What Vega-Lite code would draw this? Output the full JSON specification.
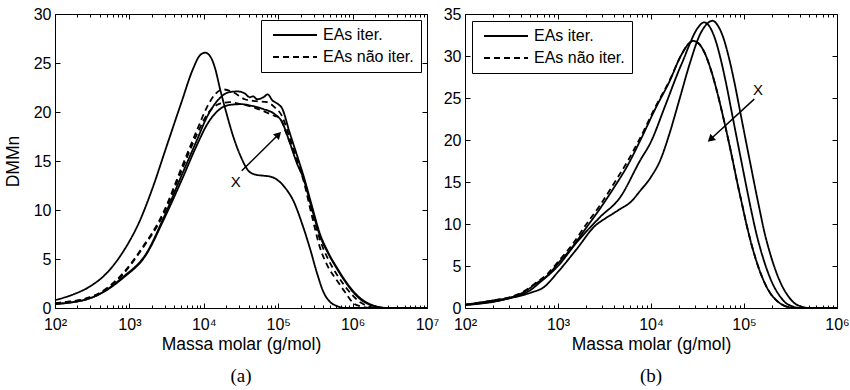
{
  "$schema": "https://vega.github.io/schema/vega-lite/v6.json",
  "autosize": {"type": "pad"},
  "padding": {"left": 3, "top": 5, "right": 4, "bottom": 0},
  "background": "white",
  "config": {
    "font": "Liberation Sans",
    "view": {"stroke": "black", "strokeWidth": 1},
    "axis": {"grid": false, "domain": false, "tickColor": "black", "labelColor": "black", "titleColor": "black", "labelFontSize": 16, "titleFontSize": 17.5, "titleFontWeight": "normal", "labelFlush": false, "labelOverlap": false}
  },
  "datasets": {
    "a": [
      {"c":"S1","t":"EAs iter.","m":100,"v":0.8},{"c":"S1","t":"EAs iter.","m":178,"v":1.4},{"c":"S1","t":"EAs iter.","m":295,"v":2.2},{"c":"S1","t":"EAs iter.","m":501,"v":3.6},{"c":"S1","t":"EAs iter.","m":832,"v":5.8},{"c":"S1","t":"EAs iter.","m":1380,"v":8.9},{"c":"S1","t":"EAs iter.","m":1995,"v":12.0},{"c":"S1","t":"EAs iter.","m":3162,"v":16.5},{"c":"S1","t":"EAs iter.","m":5012,"v":21.0},{"c":"S1","t":"EAs iter.","m":7079,"v":24.3},{"c":"S1","t":"EAs iter.","m":8913,"v":25.8},{"c":"S1","t":"EAs iter.","m":10471,"v":26.05},{"c":"S1","t":"EAs iter.","m":12589,"v":25.5},{"c":"S1","t":"EAs iter.","m":14125,"v":24.5},{"c":"S1","t":"EAs iter.","m":16596,"v":22.3},{"c":"S1","t":"EAs iter.","m":19953,"v":20.0},{"c":"S1","t":"EAs iter.","m":25119,"v":17.4},{"c":"S1","t":"EAs iter.","m":31623,"v":15.4},{"c":"S1","t":"EAs iter.","m":39811,"v":14.0},{"c":"S1","t":"EAs iter.","m":50119,"v":13.6},{"c":"S1","t":"EAs iter.","m":63096,"v":13.5},{"c":"S1","t":"EAs iter.","m":79433,"v":13.4},{"c":"S1","t":"EAs iter.","m":100000,"v":13.0},{"c":"S1","t":"EAs iter.","m":125893,"v":12.2},{"c":"S1","t":"EAs iter.","m":158489,"v":11.0},{"c":"S1","t":"EAs iter.","m":213796,"v":8.4},{"c":"S1","t":"EAs iter.","m":269153,"v":6.0},{"c":"S1","t":"EAs iter.","m":331131,"v":3.6},{"c":"S1","t":"EAs iter.","m":407380,"v":1.6},{"c":"S1","t":"EAs iter.","m":501187,"v":0.6},{"c":"S1","t":"EAs iter.","m":616595,"v":0.2},{"c":"S1","t":"EAs iter.","m":794328,"v":0},{"c":"S1","t":"EAs iter.","m":10000000,"v":0},
      {"c":"S2","t":"EAs iter.","m":100,"v":0.4},{"c":"S2","t":"EAs iter.","m":295,"v":1.0},{"c":"S2","t":"EAs iter.","m":832,"v":3.2},{"c":"S2","t":"EAs iter.","m":1698,"v":5.6},{"c":"S2","t":"EAs iter.","m":2884,"v":9.2},{"c":"S2","t":"EAs iter.","m":5012,"v":13.5},{"c":"S2","t":"EAs iter.","m":7943,"v":17.0},{"c":"S2","t":"EAs iter.","m":11220,"v":19.6},{"c":"S2","t":"EAs iter.","m":15849,"v":21.3},{"c":"S2","t":"EAs iter.","m":21380,"v":22.0},{"c":"S2","t":"EAs iter.","m":28184,"v":22.1},{"c":"S2","t":"EAs iter.","m":35481,"v":21.9},{"c":"S2","t":"EAs iter.","m":41687,"v":21.5},{"c":"S2","t":"EAs iter.","m":45709,"v":21.6},{"c":"S2","t":"EAs iter.","m":52481,"v":21.3},{"c":"S2","t":"EAs iter.","m":63096,"v":21.5},{"c":"S2","t":"EAs iter.","m":72444,"v":21.8},{"c":"S2","t":"EAs iter.","m":83176,"v":21.2},{"c":"S2","t":"EAs iter.","m":100000,"v":20.8},{"c":"S2","t":"EAs iter.","m":112202,"v":20.4},{"c":"S2","t":"EAs iter.","m":141254,"v":18.0},{"c":"S2","t":"EAs iter.","m":194984,"v":14.7},{"c":"S2","t":"EAs iter.","m":218776,"v":13.5},{"c":"S2","t":"EAs iter.","m":281838,"v":10.5},{"c":"S2","t":"EAs iter.","m":363078,"v":7.6},{"c":"S2","t":"EAs iter.","m":467735,"v":5.7},{"c":"S2","t":"EAs iter.","m":616595,"v":4.1},{"c":"S2","t":"EAs iter.","m":794328,"v":2.8},{"c":"S2","t":"EAs iter.","m":1023293,"v":1.7},{"c":"S2","t":"EAs iter.","m":1318257,"v":0.9},{"c":"S2","t":"EAs iter.","m":1698244,"v":0.4},{"c":"S2","t":"EAs iter.","m":2238721,"v":0.1},{"c":"S2","t":"EAs iter.","m":2818383,"v":0},{"c":"S2","t":"EAs iter.","m":10000000,"v":0},
      {"c":"S3","t":"EAs iter.","m":100,"v":0.4},{"c":"S3","t":"EAs iter.","m":295,"v":1.0},{"c":"S3","t":"EAs iter.","m":832,"v":3.1},{"c":"S3","t":"EAs iter.","m":1698,"v":5.5},{"c":"S3","t":"EAs iter.","m":2884,"v":9.0},{"c":"S3","t":"EAs iter.","m":5012,"v":13.0},{"c":"S3","t":"EAs iter.","m":7943,"v":16.5},{"c":"S3","t":"EAs iter.","m":11220,"v":18.8},{"c":"S3","t":"EAs iter.","m":15849,"v":20.2},{"c":"S3","t":"EAs iter.","m":21380,"v":20.7},{"c":"S3","t":"EAs iter.","m":31623,"v":20.8},{"c":"S3","t":"EAs iter.","m":45709,"v":20.6},{"c":"S3","t":"EAs iter.","m":63096,"v":20.3},{"c":"S3","t":"EAs iter.","m":89125,"v":19.8},{"c":"S3","t":"EAs iter.","m":112202,"v":19.0},{"c":"S3","t":"EAs iter.","m":141254,"v":17.0},{"c":"S3","t":"EAs iter.","m":177828,"v":14.8},{"c":"S3","t":"EAs iter.","m":218776,"v":13.2},{"c":"S3","t":"EAs iter.","m":281838,"v":10.2},{"c":"S3","t":"EAs iter.","m":363078,"v":7.4},{"c":"S3","t":"EAs iter.","m":467735,"v":5.6},{"c":"S3","t":"EAs iter.","m":616595,"v":4.0},{"c":"S3","t":"EAs iter.","m":794328,"v":2.7},{"c":"S3","t":"EAs iter.","m":1023293,"v":1.6},{"c":"S3","t":"EAs iter.","m":1318257,"v":0.8},{"c":"S3","t":"EAs iter.","m":1698244,"v":0.35},{"c":"S3","t":"EAs iter.","m":2238721,"v":0.1},{"c":"S3","t":"EAs iter.","m":2818383,"v":0},{"c":"S3","t":"EAs iter.","m":10000000,"v":0},
      {"c":"D1","t":"EAs não iter.","m":100,"v":0.5},{"c":"D1","t":"EAs não iter.","m":295,"v":1.1},{"c":"D1","t":"EAs não iter.","m":832,"v":3.6},{"c":"D1","t":"EAs não iter.","m":1380,"v":5.8},{"c":"D1","t":"EAs não iter.","m":2884,"v":9.8},{"c":"D1","t":"EAs não iter.","m":5012,"v":14.3},{"c":"D1","t":"EAs não iter.","m":7943,"v":18.0},{"c":"D1","t":"EAs não iter.","m":11220,"v":20.6},{"c":"D1","t":"EAs não iter.","m":14125,"v":21.8},{"c":"D1","t":"EAs não iter.","m":18197,"v":22.3},{"c":"D1","t":"EAs não iter.","m":25119,"v":22.0},{"c":"D1","t":"EAs não iter.","m":35481,"v":21.3},{"c":"D1","t":"EAs não iter.","m":50119,"v":21.1},{"c":"D1","t":"EAs não iter.","m":70795,"v":21.0},{"c":"D1","t":"EAs não iter.","m":89125,"v":20.5},{"c":"D1","t":"EAs não iter.","m":112202,"v":19.6},{"c":"D1","t":"EAs não iter.","m":141254,"v":17.5},{"c":"D1","t":"EAs não iter.","m":177828,"v":15.2},{"c":"D1","t":"EAs não iter.","m":218776,"v":13.2},{"c":"D1","t":"EAs não iter.","m":281838,"v":10.0},{"c":"D1","t":"EAs não iter.","m":363078,"v":7.0},{"c":"D1","t":"EAs não iter.","m":467735,"v":5.0},{"c":"D1","t":"EAs não iter.","m":616595,"v":3.4},{"c":"D1","t":"EAs não iter.","m":794328,"v":2.2},{"c":"D1","t":"EAs não iter.","m":1023293,"v":1.2},{"c":"D1","t":"EAs não iter.","m":1318257,"v":0.5},{"c":"D1","t":"EAs não iter.","m":1698244,"v":0.15},{"c":"D1","t":"EAs não iter.","m":2238721,"v":0},{"c":"D1","t":"EAs não iter.","m":10000000,"v":0},
      {"c":"D2","t":"EAs não iter.","m":100,"v":0.5},{"c":"D2","t":"EAs não iter.","m":295,"v":1.05},{"c":"D2","t":"EAs não iter.","m":832,"v":3.5},{"c":"D2","t":"EAs não iter.","m":1380,"v":5.7},{"c":"D2","t":"EAs não iter.","m":2884,"v":9.6},{"c":"D2","t":"EAs não iter.","m":5012,"v":14.0},{"c":"D2","t":"EAs não iter.","m":7943,"v":17.6},{"c":"D2","t":"EAs não iter.","m":11220,"v":19.8},{"c":"D2","t":"EAs não iter.","m":15849,"v":20.8},{"c":"D2","t":"EAs não iter.","m":22387,"v":21.0},{"c":"D2","t":"EAs não iter.","m":31623,"v":20.8},{"c":"D2","t":"EAs não iter.","m":45709,"v":20.5},{"c":"D2","t":"EAs não iter.","m":63096,"v":20.1},{"c":"D2","t":"EAs não iter.","m":89125,"v":19.6},{"c":"D2","t":"EAs não iter.","m":104713,"v":19.4},{"c":"D2","t":"EAs não iter.","m":125893,"v":18.0},{"c":"D2","t":"EAs não iter.","m":158489,"v":16.0},{"c":"D2","t":"EAs não iter.","m":218776,"v":13.0},{"c":"D2","t":"EAs não iter.","m":281838,"v":9.5},{"c":"D2","t":"EAs não iter.","m":363078,"v":6.2},{"c":"D2","t":"EAs não iter.","m":467735,"v":4.2},{"c":"D2","t":"EAs não iter.","m":616595,"v":2.8},{"c":"D2","t":"EAs não iter.","m":794328,"v":1.6},{"c":"D2","t":"EAs não iter.","m":1023293,"v":0.5},{"c":"D2","t":"EAs não iter.","m":1318257,"v":0.15},{"c":"D2","t":"EAs não iter.","m":1698244,"v":0},{"c":"D2","t":"EAs não iter.","m":10000000,"v":0}
    ],
    "b": [
      {"c":"DB1","t":"EAs não iter.","m":100,"v":0.4},{"c":"DB1","t":"EAs não iter.","m":200,"v":0.9},{"c":"DB1","t":"EAs não iter.","m":316,"v":1.35},{"c":"DB1","t":"EAs não iter.","m":447,"v":2.1},{"c":"DB1","t":"EAs não iter.","m":562,"v":2.9},{"c":"DB1","t":"EAs não iter.","m":794,"v":4.2},{"c":"DB1","t":"EAs não iter.","m":1000,"v":5.5},{"c":"DB1","t":"EAs não iter.","m":1413,"v":7.5},{"c":"DB1","t":"EAs não iter.","m":1995,"v":9.9},{"c":"DB1","t":"EAs não iter.","m":2818,"v":12.2},{"c":"DB1","t":"EAs não iter.","m":3981,"v":14.8},{"c":"DB1","t":"EAs não iter.","m":5623,"v":17.5},{"c":"DB1","t":"EAs não iter.","m":7943,"v":20.6},{"c":"DB1","t":"EAs não iter.","m":11220,"v":24.0},{"c":"DB1","t":"EAs não iter.","m":15849,"v":27.1},{"c":"DB1","t":"EAs não iter.","m":20893,"v":30.0},{"c":"DB1","t":"EAs não iter.","m":25119,"v":31.4},{"c":"DB1","t":"EAs não iter.","m":28184,"v":31.8},{"c":"DB1","t":"EAs não iter.","m":33113,"v":31.4},{"c":"DB1","t":"EAs não iter.","m":38019,"v":30.3},{"c":"DB1","t":"EAs não iter.","m":43652,"v":28.5},{"c":"DB1","t":"EAs não iter.","m":50119,"v":26.2},{"c":"DB1","t":"EAs não iter.","m":57544,"v":23.5},{"c":"DB1","t":"EAs não iter.","m":66069,"v":20.6},{"c":"DB1","t":"EAs não iter.","m":75858,"v":17.5},{"c":"DB1","t":"EAs não iter.","m":85114,"v":14.8},{"c":"DB1","t":"EAs não iter.","m":95499,"v":12.3},{"c":"DB1","t":"EAs não iter.","m":107152,"v":9.8},{"c":"DB1","t":"EAs não iter.","m":120226,"v":7.6},{"c":"DB1","t":"EAs não iter.","m":134896,"v":5.7},{"c":"DB1","t":"EAs não iter.","m":151356,"v":4.1},{"c":"DB1","t":"EAs não iter.","m":169824,"v":2.8},{"c":"DB1","t":"EAs não iter.","m":190546,"v":1.8},{"c":"DB1","t":"EAs não iter.","m":218776,"v":1.0},{"c":"DB1","t":"EAs não iter.","m":257040,"v":0.4},{"c":"DB1","t":"EAs não iter.","m":301995,"v":0.1},{"c":"DB1","t":"EAs não iter.","m":354813,"v":0},{"c":"DB1","t":"EAs não iter.","m":1000000,"v":0},
      {"c":"B1","t":"EAs iter.","m":100,"v":0.4},{"c":"B1","t":"EAs iter.","m":200,"v":0.9},{"c":"B1","t":"EAs iter.","m":316,"v":1.3},{"c":"B1","t":"EAs iter.","m":447,"v":2.0},{"c":"B1","t":"EAs iter.","m":562,"v":2.8},{"c":"B1","t":"EAs iter.","m":794,"v":4.0},{"c":"B1","t":"EAs iter.","m":1000,"v":5.3},{"c":"B1","t":"EAs iter.","m":1413,"v":7.2},{"c":"B1","t":"EAs iter.","m":1995,"v":9.5},{"c":"B1","t":"EAs iter.","m":2818,"v":11.8},{"c":"B1","t":"EAs iter.","m":3981,"v":14.3},{"c":"B1","t":"EAs iter.","m":5623,"v":17.0},{"c":"B1","t":"EAs iter.","m":7943,"v":20.3},{"c":"B1","t":"EAs iter.","m":11220,"v":23.8},{"c":"B1","t":"EAs iter.","m":15849,"v":27.0},{"c":"B1","t":"EAs iter.","m":20893,"v":30.0},{"c":"B1","t":"EAs iter.","m":25119,"v":31.4},{"c":"B1","t":"EAs iter.","m":28184,"v":31.8},{"c":"B1","t":"EAs iter.","m":33113,"v":31.4},{"c":"B1","t":"EAs iter.","m":38019,"v":30.3},{"c":"B1","t":"EAs iter.","m":43652,"v":28.5},{"c":"B1","t":"EAs iter.","m":50119,"v":26.2},{"c":"B1","t":"EAs iter.","m":57544,"v":23.5},{"c":"B1","t":"EAs iter.","m":66069,"v":20.6},{"c":"B1","t":"EAs iter.","m":75858,"v":17.5},{"c":"B1","t":"EAs iter.","m":85114,"v":14.8},{"c":"B1","t":"EAs iter.","m":95499,"v":12.3},{"c":"B1","t":"EAs iter.","m":107152,"v":9.8},{"c":"B1","t":"EAs iter.","m":120226,"v":7.6},{"c":"B1","t":"EAs iter.","m":134896,"v":5.7},{"c":"B1","t":"EAs iter.","m":151356,"v":4.1},{"c":"B1","t":"EAs iter.","m":169824,"v":2.8},{"c":"B1","t":"EAs iter.","m":190546,"v":1.8},{"c":"B1","t":"EAs iter.","m":218776,"v":1.0},{"c":"B1","t":"EAs iter.","m":257040,"v":0.4},{"c":"B1","t":"EAs iter.","m":301995,"v":0.1},{"c":"B1","t":"EAs iter.","m":354813,"v":0},{"c":"B1","t":"EAs iter.","m":1000000,"v":0},
      {"c":"B2","t":"EAs iter.","m":100,"v":0.35},{"c":"B2","t":"EAs iter.","m":316,"v":1.25},{"c":"B2","t":"EAs iter.","m":501,"v":2.1},{"c":"B2","t":"EAs iter.","m":631,"v":3.0},{"c":"B2","t":"EAs iter.","m":1000,"v":5.0},{"c":"B2","t":"EAs iter.","m":1585,"v":7.8},{"c":"B2","t":"EAs iter.","m":2818,"v":10.8},{"c":"B2","t":"EAs iter.","m":4677,"v":13.2},{"c":"B2","t":"EAs iter.","m":7586,"v":17.5},{"c":"B2","t":"EAs iter.","m":10000,"v":19.8},{"c":"B2","t":"EAs iter.","m":14125,"v":24.0},{"c":"B2","t":"EAs iter.","m":19953,"v":28.3},{"c":"B2","t":"EAs iter.","m":22387,"v":29.6},{"c":"B2","t":"EAs iter.","m":25119,"v":31.0},{"c":"B2","t":"EAs iter.","m":31623,"v":33.3},{"c":"B2","t":"EAs iter.","m":37154,"v":34.0},{"c":"B2","t":"EAs iter.","m":42658,"v":33.5},{"c":"B2","t":"EAs iter.","m":48978,"v":32.0},{"c":"B2","t":"EAs iter.","m":56234,"v":29.6},{"c":"B2","t":"EAs iter.","m":64565,"v":26.6},{"c":"B2","t":"EAs iter.","m":74131,"v":23.2},{"c":"B2","t":"EAs iter.","m":85114,"v":19.8},{"c":"B2","t":"EAs iter.","m":95499,"v":17.0},{"c":"B2","t":"EAs iter.","m":107152,"v":14.2},{"c":"B2","t":"EAs iter.","m":120226,"v":11.5},{"c":"B2","t":"EAs iter.","m":134896,"v":9.0},{"c":"B2","t":"EAs iter.","m":151356,"v":6.9},{"c":"B2","t":"EAs iter.","m":169824,"v":5.1},{"c":"B2","t":"EAs iter.","m":190546,"v":3.6},{"c":"B2","t":"EAs iter.","m":213796,"v":2.4},{"c":"B2","t":"EAs iter.","m":239883,"v":1.5},{"c":"B2","t":"EAs iter.","m":281838,"v":0.6},{"c":"B2","t":"EAs iter.","m":331131,"v":0.2},{"c":"B2","t":"EAs iter.","m":407380,"v":0},{"c":"B2","t":"EAs iter.","m":1000000,"v":0},
      {"c":"B3","t":"EAs iter.","m":100,"v":0.35},{"c":"B3","t":"EAs iter.","m":316,"v":1.2},{"c":"B3","t":"EAs iter.","m":501,"v":1.8},{"c":"B3","t":"EAs iter.","m":708,"v":2.5},{"c":"B3","t":"EAs iter.","m":1000,"v":4.3},{"c":"B3","t":"EAs iter.","m":1585,"v":7.0},{"c":"B3","t":"EAs iter.","m":2512,"v":9.8},{"c":"B3","t":"EAs iter.","m":3162,"v":10.6},{"c":"B3","t":"EAs iter.","m":3981,"v":11.3},{"c":"B3","t":"EAs iter.","m":4677,"v":11.8},{"c":"B3","t":"EAs iter.","m":6026,"v":12.6},{"c":"B3","t":"EAs iter.","m":7586,"v":13.9},{"c":"B3","t":"EAs iter.","m":10000,"v":15.6},{"c":"B3","t":"EAs iter.","m":12589,"v":17.6},{"c":"B3","t":"EAs iter.","m":15849,"v":20.8},{"c":"B3","t":"EAs iter.","m":19953,"v":24.6},{"c":"B3","t":"EAs iter.","m":26303,"v":29.2},{"c":"B3","t":"EAs iter.","m":33113,"v":32.4},{"c":"B3","t":"EAs iter.","m":39811,"v":33.8},{"c":"B3","t":"EAs iter.","m":45709,"v":34.2},{"c":"B3","t":"EAs iter.","m":52481,"v":33.6},{"c":"B3","t":"EAs iter.","m":60256,"v":32.1},{"c":"B3","t":"EAs iter.","m":69183,"v":29.7},{"c":"B3","t":"EAs iter.","m":79433,"v":26.7},{"c":"B3","t":"EAs iter.","m":91201,"v":23.3},{"c":"B3","t":"EAs iter.","m":104713,"v":19.9},{"c":"B3","t":"EAs iter.","m":117490,"v":17.1},{"c":"B3","t":"EAs iter.","m":131826,"v":14.3},{"c":"B3","t":"EAs iter.","m":147911,"v":11.6},{"c":"B3","t":"EAs iter.","m":165959,"v":9.0},{"c":"B3","t":"EAs iter.","m":186209,"v":6.9},{"c":"B3","t":"EAs iter.","m":208930,"v":5.1},{"c":"B3","t":"EAs iter.","m":234423,"v":3.6},{"c":"B3","t":"EAs iter.","m":263027,"v":2.4},{"c":"B3","t":"EAs iter.","m":295121,"v":1.5},{"c":"B3","t":"EAs iter.","m":346737,"v":0.6},{"c":"B3","t":"EAs iter.","m":407380,"v":0.2},{"c":"B3","t":"EAs iter.","m":501187,"v":0},{"c":"B3","t":"EAs iter.","m":1000000,"v":0}
    ],
    "arrA": [{"m": 32359, "v": 14.0, "m2": 100925, "v2": 17.7, "mx": 26915, "vx": 12.9, "lab": "X"}],
    "arrB": [{"m": 128825, "v": 24.86, "m2": 43652, "v2": 20.09, "mx": 141254, "vx": 25.9, "lab": "X"}]
  },
  "hconcat": [
    {
      "width": 372,
      "height": 294,
      "title": {"text": "(a)", "orient": "bottom", "font": "Liberation Serif", "fontSize": 19, "fontWeight": "normal", "color": "black", "offset": 14},
      "resolve": {"axis": {"x": "independent", "y": "independent"}},
      "layer": [
        {
          "data": {"name": "a"},
          "mark": {"type": "line", "color": "black", "strokeWidth": 1.8, "interpolate": "monotone"},
          "encoding": {
            "x": {"field": "m", "type": "quantitative", "scale": {"type": "log", "domain": [100, 10000000], "nice": false},
              "axis": {"orient": "bottom", "values": [100, 1000, 10000, 100000, 1000000, 10000000], "tickSize": -5, "labelPadding": 13,
                "labelExpr": "datum.value < 500 ? '10²' : datum.value < 5000 ? '10³' : datum.value < 50000 ? '10⁴' : datum.value < 500000 ? '10⁵' : datum.value < 5000000 ? '10⁶' : '10⁷'",
                "title": "Massa molar (g/mol)", "titlePadding": 3}},
            "y": {"field": "v", "type": "quantitative", "scale": {"domain": [0, 30], "nice": false},
              "axis": {"orient": "left", "values": [0, 5, 10, 15, 20, 25, 30], "tickSize": -5, "labelPadding": 9, "title": "DMMn", "titlePadding": 11}},
            "detail": {"field": "c"},
            "strokeDash": {"field": "t", "type": "nominal", "scale": {"domain": ["EAs iter.", "EAs não iter."], "range": [[1, 0], [6, 4]]},
              "legend": {"orient": "top-right", "offset": 6, "title": null, "strokeColor": "black", "fillColor": "white", "padding": 7, "labelFontSize": 16, "labelColor": "black", "symbolType": "M-5.5,0H5.5", "symbolSize": 64, "symbolStrokeWidth": 1.8, "symbolStrokeColor": "black", "symbolOffset": 19, "labelOffset": 20, "rowPadding": 6, "cornerRadius": 0}}
          }
        },
        {
          "data": {"name": "arrA"},
          "mark": {"type": "rule", "color": "black", "strokeWidth": 1.5},
          "encoding": {
            "x": {"field": "m", "type": "quantitative", "scale": {"type": "log", "domain": [100, 10000000], "nice": false},
              "axis": {"orient": "top", "values": [100, 1000, 10000, 100000, 1000000, 10000000], "tickSize": -5, "labels": false, "title": null}},
            "x2": {"field": "m2"},
            "y": {"field": "v", "type": "quantitative", "scale": {"domain": [0, 30], "nice": false},
              "axis": {"orient": "right", "values": [0, 5, 10, 15, 20, 25, 30], "tickSize": -5, "labels": false, "title": null}},
            "y2": {"field": "v2"}
          }
        },
        {
          "data": {"name": "arrA"},
          "mark": {"type": "point", "shape": "triangle-up", "angle": 45, "filled": true, "color": "black", "opacity": 1, "size": 70},
          "encoding": {
            "x": {"field": "m2", "type": "quantitative", "scale": {"type": "log", "domain": [100, 10000000], "nice": false},
              "axis": {"orient": "bottom", "values": [200,300,400,500,600,700,800,900,2000,3000,4000,5000,6000,7000,8000,9000,20000,30000,40000,50000,60000,70000,80000,90000,200000,300000,400000,500000,600000,700000,800000,900000,2000000,3000000,4000000,5000000,6000000,7000000,8000000,9000000], "tickSize": -3, "labels": false, "title": null}},
            "y": {"field": "v2", "type": "quantitative", "scale": {"domain": [0, 30], "nice": false}, "axis": null}
          }
        },
        {
          "data": {"name": "arrA"},
          "mark": {"type": "text", "fontSize": 15, "font": "Liberation Sans", "color": "black"},
          "encoding": {
            "x": {"field": "mx", "type": "quantitative", "scale": {"type": "log", "domain": [100, 10000000], "nice": false},
              "axis": {"orient": "top", "values": [200,300,400,500,600,700,800,900,2000,3000,4000,5000,6000,7000,8000,9000,20000,30000,40000,50000,60000,70000,80000,90000,200000,300000,400000,500000,600000,700000,800000,900000,2000000,3000000,4000000,5000000,6000000,7000000,8000000,9000000], "tickSize": -3, "labels": false, "title": null}},
            "y": {"field": "vx", "type": "quantitative", "scale": {"domain": [0, 30], "nice": false}, "axis": null},
            "text": {"field": "lab"}
          }
        }
      ]
    },
    {
      "width": 372,
      "height": 294,
      "title": {"text": "(b)", "orient": "bottom", "font": "Liberation Serif", "fontSize": 19, "fontWeight": "normal", "color": "black", "offset": 14},
      "resolve": {"axis": {"x": "independent", "y": "independent"}},
      "layer": [
        {
          "data": {"name": "b"},
          "mark": {"type": "line", "color": "black", "strokeWidth": 1.8, "interpolate": "monotone"},
          "encoding": {
            "x": {"field": "m", "type": "quantitative", "scale": {"type": "log", "domain": [100, 1000000], "nice": false},
              "axis": {"orient": "bottom", "values": [100, 1000, 10000, 100000, 1000000], "tickSize": -5, "labelPadding": 13,
                "labelExpr": "datum.value < 500 ? '10²' : datum.value < 5000 ? '10³' : datum.value < 50000 ? '10⁴' : datum.value < 500000 ? '10⁵' : '10⁶'",
                "title": "Massa molar (g/mol)", "titlePadding": 3}},
            "y": {"field": "v", "type": "quantitative", "scale": {"domain": [0, 35], "nice": false},
              "axis": {"orient": "left", "values": [0, 5, 10, 15, 20, 25, 30, 35], "tickSize": -5, "labelPadding": 9, "title": null}},
            "detail": {"field": "c"},
            "strokeDash": {"field": "t", "type": "nominal", "scale": {"domain": ["EAs iter.", "EAs não iter."], "range": [[1, 0], [6, 4]]},
              "legend": {"orient": "top-left", "offset": 7, "title": null, "strokeColor": "black", "fillColor": "white", "padding": 7, "labelFontSize": 16, "labelColor": "black", "symbolType": "M-5.5,0H5.5", "symbolSize": 64, "symbolStrokeWidth": 1.8, "symbolStrokeColor": "black", "symbolOffset": 19, "labelOffset": 20, "rowPadding": 6, "cornerRadius": 0}}
          }
        },
        {
          "data": {"name": "arrB"},
          "mark": {"type": "rule", "color": "black", "strokeWidth": 1.5},
          "encoding": {
            "x": {"field": "m", "type": "quantitative", "scale": {"type": "log", "domain": [100, 1000000], "nice": false},
              "axis": {"orient": "top", "values": [100, 1000, 10000, 100000, 1000000], "tickSize": -5, "labels": false, "title": null}},
            "x2": {"field": "m2"},
            "y": {"field": "v", "type": "quantitative", "scale": {"domain": [0, 35], "nice": false},
              "axis": {"orient": "right", "values": [0, 5, 10, 15, 20, 25, 30, 35], "tickSize": -5, "labels": false, "title": null}},
            "y2": {"field": "v2"}
          }
        },
        {
          "data": {"name": "arrB"},
          "mark": {"type": "point", "shape": "triangle-up", "angle": 228, "filled": true, "color": "black", "opacity": 1, "size": 70},
          "encoding": {
            "x": {"field": "m2", "type": "quantitative", "scale": {"type": "log", "domain": [100, 1000000], "nice": false},
              "axis": {"orient": "bottom", "values": [200,300,400,500,600,700,800,900,2000,3000,4000,5000,6000,7000,8000,9000,20000,30000,40000,50000,60000,70000,80000,90000,200000,300000,400000,500000,600000,700000,800000,900000], "tickSize": -3, "labels": false, "title": null}},
            "y": {"field": "v2", "type": "quantitative", "scale": {"domain": [0, 35], "nice": false}, "axis": null}
          }
        },
        {
          "data": {"name": "arrB"},
          "mark": {"type": "text", "fontSize": 15, "font": "Liberation Sans", "color": "black"},
          "encoding": {
            "x": {"field": "mx", "type": "quantitative", "scale": {"type": "log", "domain": [100, 1000000], "nice": false},
              "axis": {"orient": "top", "values": [200,300,400,500,600,700,800,900,2000,3000,4000,5000,6000,7000,8000,9000,20000,30000,40000,50000,60000,70000,80000,90000,200000,300000,400000,500000,600000,700000,800000,900000], "tickSize": -3, "labels": false, "title": null}},
            "y": {"field": "vx", "type": "quantitative", "scale": {"domain": [0, 35], "nice": false}, "axis": null},
            "text": {"field": "lab"}
          }
        }
      ]
    }
  ],
  "spacing": 38,
  "bounds": "flush",
  "resolve": {"scale": {"x": "independent", "y": "independent", "strokeDash": "independent"}, "legend": {"strokeDash": "independent"}}
}
